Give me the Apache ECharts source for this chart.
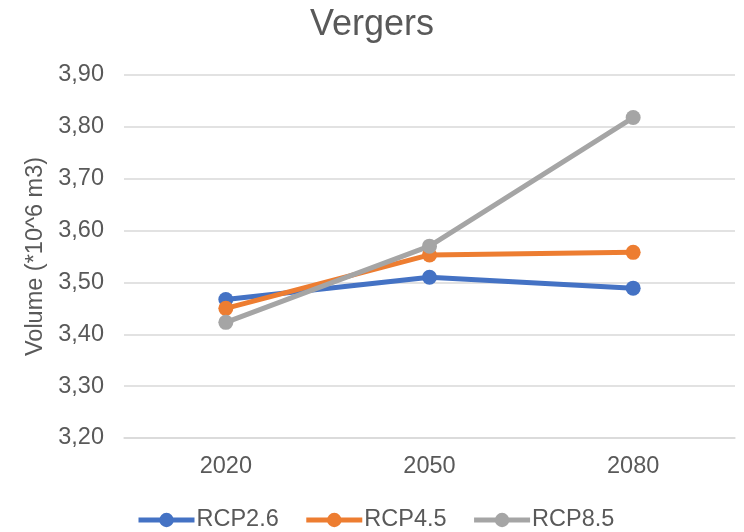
<!DOCTYPE html>
<html>
<head>
<meta charset="utf-8">
<script src="https://cdn.jsdelivr.net/npm/echarts@6/dist/echarts.min.js"></script>
<style>
  html, body { margin: 0; padding: 0; background: #fff; }
  #chart { width: 744px; height: 532px; }
</style>
</head>
<body>
<div id="chart"></div>
<script>
// Orchard water volume projections per RCP scenario
const years = ['2020', '2050', '2080'];
const rcp26 = [3.467, 3.510, 3.489];
const rcp45 = [3.450, 3.553, 3.558];
const rcp85 = [3.423, 3.570, 3.818];
const seriesNames = ['RCP2.6', 'RCP4.5', 'RCP8.5'];
const colors = ['#4472C4', '#ED7D31', '#A5A5A5'];

const FONT = 'Liberation Sans, Arial, sans-serif';
const TEXT = '#595959';
const FS = 23.5;

const chart = echarts.init(document.getElementById('chart'));

const makeSeries = (name, data, color) => ({
  name: name,
  type: 'line',
  data: data,
  symbol: 'circle',
  symbolSize: 15,
  lineStyle: { width: 5, color: color },
  itemStyle: { color: color },
  emphasis: { disabled: true },
  animation: false
});

chart.setOption({
  animation: false,
  title: {
    text: 'Vergers',
    left: 'center',
    top: 2,
    textStyle: { fontFamily: FONT, fontSize: 36, fontWeight: 'normal', color: TEXT }
  },
  grid: { left: 124, right: 9, top: 75, bottom: 94, containLabel: false },
  legend: {
    left: 131,
    top: 503,
    itemWidth: 56,
    itemHeight: 18,
    itemGap: 25,
    data: seriesNames,
    lineStyle: { width: 5 },
    textStyle: { fontFamily: FONT, fontSize: FS, color: TEXT, padding: [0, 0, 0, -3] }
  },
  xAxis: {
    type: 'category',
    data: years,
    boundaryGap: true,
    axisLine: { lineStyle: { color: '#D9D9D9', width: 1.5 } },
    axisTick: { show: false },
    axisLabel: { fontFamily: FONT, fontSize: FS, color: TEXT, margin: 17 }
  },
  yAxis: {
    type: 'value',
    min: 3.2,
    max: 3.9,
    interval: 0.1,
    name: 'Volume (*10^6 m3)',
    nameLocation: 'middle',
    nameGap: 75,
    nameTextStyle: { fontFamily: FONT, fontSize: FS, color: TEXT },
    axisLine: { show: false },
    axisTick: { show: false },
    splitLine: { lineStyle: { color: '#D9D9D9', width: 1.5 } },
    axisLabel: {
      fontFamily: FONT, fontSize: FS, color: TEXT, margin: 20,
      formatter: v => v.toFixed(2).replace('.', ',')
    }
  },
  series: [
    makeSeries(seriesNames[0], rcp26, colors[0]),
    makeSeries(seriesNames[1], rcp45, colors[1]),
    makeSeries(seriesNames[2], rcp85, colors[2])
  ]
});
</script>
</body>
</html>
